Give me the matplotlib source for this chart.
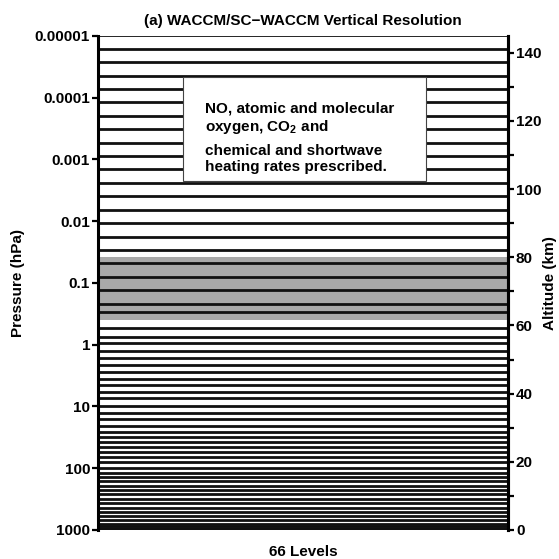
import numpy as np
import matplotlib
matplotlib.use('Agg')
import matplotlib.pyplot as plt
from matplotlib.patches import Rectangle
import matplotlib.transforms as mtransforms

plt.rcParams['font.family'] = ['Liberation Sans', 'DejaVu Sans']
plt.rcParams['font.weight'] = 'bold'
plt.rcParams['mathtext.fontset'] = 'custom'
plt.rcParams['mathtext.rm'] = 'Liberation Sans:bold'
plt.rcParams['mathtext.bf'] = 'Liberation Sans:bold'

# model level pressures (hPa)
levels_upper = [9.83e-6, 1.62e-5, 2.67e-5, 4.40e-5, 7.26e-5, 1.20e-4, 1.97e-4,
                3.25e-4, 5.37e-4, 8.85e-4, 1.46e-3, 2.40e-3, 3.96e-3, 6.54e-3,
                1.08e-2, 1.78e-2, 2.93e-2, 4.83e-2, 7.96e-2, 0.131, 0.216]
levels_middle = [0.292, 0.542, 0.741, 0.947, 1.25, 1.66, 2.13, 2.73, 3.59,
                 4.49, 5.76, 7.36, 9.82, 12.6, 16.1, 20.5, 25.6, 30.8, 37.2,
                 44.8, 53.9, 64.9, 78.2]
levels_lower = [100.5, 118.3, 139.1, 163.7, 192.5, 226.5, 266.5, 313.5, 368.8,
                433.9, 510.5, 600.5, 696.8, 787.7, 867.2, 929.6, 970.6, 992.6]
levels = levels_upper + levels_middle + levels_lower

shade_band = [0.038, 0.40]      # hPa, shaded region
box_range = [4.6e-5, 2.23e-3]   # hPa, extent of the note box

p_ticks = [1e-5, 1e-4, 1e-3, 1e-2, 1e-1, 1, 10, 100, 1000]
p_labels = ['0.00001', '0.0001', '0.001', '0.01', '0.1', '1', '10', '100', '1000']
z_ticks = [0, 20, 40, 60, 80, 100, 120, 140]
z_top = 145.

fig = plt.figure(figsize=(5.59, 5.59), dpi=100)
ax = fig.add_axes([0.176, 0.052, 0.732, 0.884])

ax.axhspan(shade_band[0], shade_band[1], color='#a9a9a9', lw=0, zorder=1)
ax.hlines(levels, 0, 1, colors='#111111', lw=2.0, zorder=2)

trans = mtransforms.blended_transform_factory(ax.transAxes, ax.transData)
ax.add_patch(Rectangle((0.207, box_range[0]), 0.593, box_range[1] - box_range[0],
                       transform=trans, facecolor='white', edgecolor='#444444',
                       lw=0.8, zorder=3))
ax.text(0.261, 2.2e-4, 'NO, atomic and molecular\noxygen, CO$_2$ and',
        transform=trans, fontsize=11, fontweight='bold', va='center',
        linespacing=1.15, zorder=4)
ax.text(0.261, 1.0e-3, 'chemical and shortwave\nheating rates prescribed.',
        transform=trans, fontsize=11, fontweight='bold', va='center',
        linespacing=1.15, zorder=4)

ax.set_yscale('log')
ax.set_ylim(1000, 1e-5)
ax.set_xlim(0, 1)
ax.set_xticks([])
ax.set_yticks(p_ticks)
ax.set_yticklabels(p_labels)
ax.minorticks_off()
ax.tick_params(axis='y', which='major', direction='out', length=4, width=1.6,
               labelsize=11, right=True, pad=2)
for s in ['top', 'bottom']:
    ax.spines[s].set_visible(False)
for s in ['left', 'right']:
    ax.spines[s].set_linewidth(2.2)

ax.set_ylabel('Pressure (hPa)', fontsize=11, fontweight='bold', labelpad=7)
ax.set_xlabel('66 Levels', fontsize=11, fontweight='bold', labelpad=11)
ax.set_title('(a) WACCM/SC\u2212WACCM Vertical Resolution', fontsize=11,
             fontweight='bold', pad=8)

ax2 = ax.twinx()
ax2.set_ylim(0, z_top)
ax2.set_yticks(z_ticks)
ax2.set_yticks(np.arange(10, 140, 20), minor=True)
ax2.tick_params(axis='y', which='major', direction='out', length=4, width=1.6,
                labelsize=11, pad=2)
ax2.tick_params(axis='y', which='minor', direction='out', length=4, width=1.6)
for s in ['top', 'bottom', 'left']:
    ax2.spines[s].set_visible(False)
ax2.spines['right'].set_linewidth(2.2)
ax2.set_ylabel('Altitude (km)', fontsize=11, fontweight='bold', labelpad=1)

fig.savefig('out.png', dpi=100)
